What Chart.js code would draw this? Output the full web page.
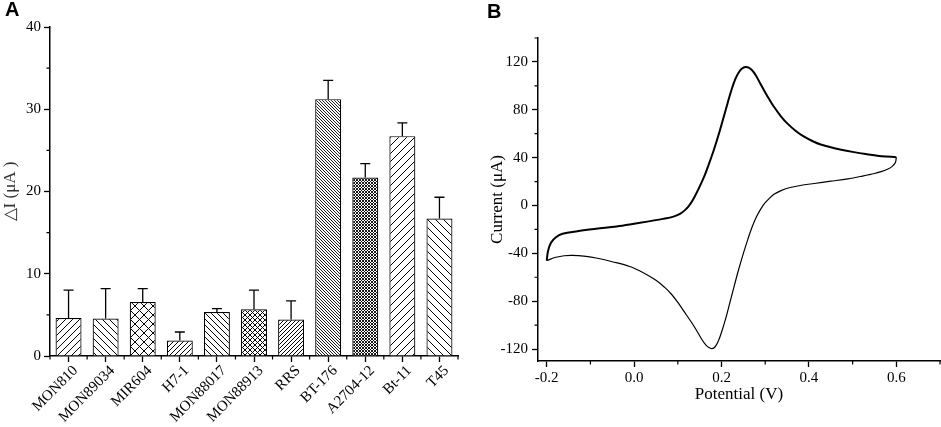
<!DOCTYPE html>
<html>
<head>
<meta charset="utf-8">
<script src="https://cdn.jsdelivr.net/npm/chart.js@4.4.1/dist/chart.umd.min.js"></script>
<style>
  html, body { margin: 0; padding: 0; background: #fff; }
  body { width: 941px; height: 427px; position: relative; overflow: hidden; }
  .panel { position: absolute; top: 0; height: 427px; }
  #boxA { left: 0; width: 480px; }
  #boxB { left: 480px; width: 461px; }
  .tag { position: absolute; font: bold 20px "Liberation Sans", Arial, sans-serif; color: #000; }
</style>
</head>
<body>
<div class="panel" id="boxA"><canvas id="barChart"></canvas></div>
<div class="panel" id="boxB"><canvas id="cvChart"></canvas></div>
<div class="tag" style="left:5px;top:-2px">A</div>
<div class="tag" style="left:487px;top:0px">B</div>
<script>
// Panel A: current change per maize event
const events = ["MON810", "MON89034", "MIR604", "H7-1", "MON88017", "MON88913",
                "RRS", "BT-176", "A2704-12", "Bt-11", "T45"];
const deltaI = [4.62, 4.55, 6.57, 1.87, 5.35, 5.68, 4.43, 31.23, 21.7, 26.73, 16.72];
const deltaIErr = [3.38, 3.65, 1.63, 1.05, 0.42, 2.32, 2.27, 2.27, 1.7, 1.62, 2.58];
const barTicksY = [0, 10, 20, 30, 40];

// Panel B: cyclic voltammogram, potential (V) vs current (uA)
const anodicV = [-0.2, -0.197, -0.19, -0.179, -0.164, -0.13, -0.087, -0.04, -0.01, 0.03, 0.066,
  0.09, 0.105, 0.115, 0.125, 0.135, 0.147, 0.159, 0.17, 0.182, 0.194, 0.205, 0.215, 0.224,
  0.232, 0.239, 0.247, 0.255, 0.262, 0.27, 0.279, 0.289, 0.3, 0.31, 0.32, 0.335, 0.351,
  0.37, 0.389, 0.41, 0.427, 0.45, 0.474, 0.5, 0.53, 0.566, 0.6];
const anodicI = [-46, -38, -31, -26.5, -23.7, -21.5, -19.5, -17.5, -15.9, -13.5, -11.2,
  -9.3, -7, -4.3, -0.5, 5, 13.5, 23, 33.5, 46, 60, 74, 87, 98,
  106, 111, 114.5, 115.7, 115.2, 113, 108.5, 101.8, 94.5, 88.3, 82.5, 75, 68.4,
  62.3, 57.5, 53.5, 51, 48.6, 46.6, 44.8, 43, 41.2, 40.4];
const cathodicV = [0.6, 0.598, 0.59, 0.581, 0.565, 0.55, 0.52, 0.489, 0.45, 0.412, 0.38,
  0.355, 0.335, 0.32, 0.31, 0.3, 0.29, 0.28, 0.27, 0.26, 0.25, 0.24, 0.23, 0.22,
  0.21, 0.2, 0.192, 0.185, 0.178, 0.171, 0.164, 0.155, 0.143, 0.13, 0.115, 0.1, 0.085,
  0.07, 0.05, 0.02, -0.01, -0.05, -0.087, -0.115, -0.141, -0.16, -0.179, -0.2];
const cathodicI = [40.4, 36, 32.5, 30.5, 28.3, 26.7, 24.4, 22.3, 20.3, 18.4, 16.7,
  14.8, 12.2, 9.3, 6.2, 2.3, -2.8, -9.5, -18, -28.5, -40, -52.5, -66, -80,
  -94, -106, -114, -118.3, -119.6, -118.8, -116.6, -112, -104.5, -97, -89, -81, -74,
  -68.5, -62.5, -56, -51, -47, -43.9, -42.3, -41.7, -42, -43.3, -46];

const serif = "'Liberation Serif', 'Times New Roman', serif";

function hatch(kind, s, lw) {
  const c = document.createElement("canvas");
  c.width = s; c.height = s;
  const g = c.getContext("2d");
  g.fillStyle = "#fff";
  g.fillRect(0, 0, s, s);
  g.strokeStyle = "#000";
  g.lineWidth = lw;
  g.beginPath();
  if (kind === "/" || kind === "x") {
    g.moveTo(-1, s + 1); g.lineTo(s + 1, -1);
    g.moveTo(-1, 1); g.lineTo(1, -1);
    g.moveTo(s - 1, s + 1); g.lineTo(s + 1, s - 1);
  }
  if (kind === "\\" || kind === "x") {
    g.moveTo(-1, -1); g.lineTo(s + 1, s + 1);
    g.moveTo(s - 1, -1); g.lineTo(s + 1, 1);
    g.moveTo(-1, s - 1); g.lineTo(1, s + 1);
  }
  g.stroke();
  return g.createPattern(c, "repeat");
}

// draws short ticks halfway between the library's own ticks
const minorTicks = {
  id: "minorTicks",
  afterDraw(chart, args, opts) {
    const ctx = chart.ctx;
    ctx.save();
    ctx.strokeStyle = "#000";
    ctx.lineWidth = 1.2;
    (opts.axes || []).forEach((id) => {
      const s = chart.scales[id];
      if (s.ticks.length < 2) return;
      const first = s.getPixelForTick(0);
      const step = s.getPixelForTick(1) - first;
      const horiz = s.isHorizontal();
      const lo = horiz ? s.left : s.top, hi = horiz ? s.right : s.bottom;
      ctx.beginPath();
      for (let i = -1; i < s.ticks.length; i++) {
        const p = first + (i + 0.5) * step;
        if (p < lo - 1 || p > hi + 1) continue;
        if (horiz) { ctx.moveTo(p, s.top); ctx.lineTo(p, s.top + 3.5); }
        else { ctx.moveTo(s.right, p); ctx.lineTo(s.right - 3.5, p); }
      }
      ctx.stroke();
    });
    ctx.restore();
  },
};

const errorBars = {
  id: "errorBars",
  afterDatasetsDraw(chart) {
    const meta = chart.getDatasetMeta(0);
    const y = chart.scales.y;
    const ctx = chart.ctx;
    ctx.save();
    ctx.strokeStyle = "#000";
    ctx.lineWidth = 1.3;
    ctx.beginPath();
    meta.data.forEach((bar, i) => {
      const top = y.getPixelForValue(deltaI[i] + deltaIErr[i]);
      ctx.moveTo(bar.x, bar.y);
      ctx.lineTo(bar.x, top);
      ctx.moveTo(bar.x - 5, top);
      ctx.lineTo(bar.x + 5, top);
    });
    ctx.stroke();
    ctx.restore();
  },
};

const axisBase = {
  border: { display: true, color: "#000", width: 1.5 },
  grid: { drawOnChartArea: false, drawTicks: true, tickLength: 6, tickColor: "#000", tickWidth: 1.3 },
};

const fills = [
  hatch("/", 7, 1), hatch("\\", 7, 1), hatch("x", 9, 1), hatch("/", 5, 1),
  hatch("\\", 6, 1), hatch("x", 5, 1), hatch("/", 4, 1), hatch("\\", 3, 0.9),
  hatch("x", 3, 0.9), hatch("/", 8, 1), hatch("\\", 8, 1),
];

new Chart(document.getElementById("barChart"), {
  type: "bar",
  data: {
    labels: events,
    datasets: [{
      data: deltaI,
      backgroundColor: fills,
      borderColor: "#000",
      borderWidth: 1.2,
      barPercentage: 0.7,
      categoryPercentage: 1,
    }],
  },
  options: {
    responsive: true,
    maintainAspectRatio: false,
    animation: false,
    layout: { padding: { top: 27, right: 22, left: 0, bottom: 0 } },
    plugins: { legend: { display: false }, tooltip: { enabled: false }, minorTicks: { axes: ["x", "y"] } },
    scales: {
      x: {
        ...axisBase,
        grid: { ...axisBase.grid, offset: false },
        ticks: {
          color: "#000", font: { family: serif, size: 15 },
          minRotation: 45, maxRotation: 45, autoSkip: false, padding: 0, labelOffset: 7,
        },
        afterFit(s) { s.height = 71; },
      },
      y: {
        ...axisBase,
        min: barTicksY[0],
        max: barTicksY[barTicksY.length - 1],
        ticks: { stepSize: 10, color: "#000", font: { family: serif, size: 15 }, padding: 3 },
        title: { display: true, text: "△I (μA )", color: "#333", font: { family: serif, size: 17 }, padding: { top: 0 } },
        afterFit(s) { s.width = 50; },
      },
    },
  },
  plugins: [errorBars, minorTicks],
});

const toPts = (xs, ys) => xs.map((x, i) => ({ x: x, y: ys[i] }));

new Chart(document.getElementById("cvChart"), {
  type: "scatter",
  data: {
    datasets: [
      { data: toPts(anodicV, anodicI), showLine: true, borderColor: "#000", borderWidth: 2, pointRadius: 0, tension: 0.35 },
      { data: toPts(cathodicV, cathodicI), showLine: true, borderColor: "#000", borderWidth: 1.2, pointRadius: 0, tension: 0.35 },
    ],
  },
  options: {
    responsive: true,
    maintainAspectRatio: false,
    animation: false,
    layout: { padding: { top: 38, right: 1, left: 0, bottom: 0 } },
    plugins: { legend: { display: false }, tooltip: { enabled: false }, minorTicks: { axes: ["x", "y"] } },
    scales: {
      x: {
        ...axisBase,
        type: "linear",
        min: -0.22,
        max: 0.7,
        ticks: {
          stepSize: 0.2, includeBounds: false, color: "#000", padding: 2,
          font: { family: serif, size: 15 },
          callback: (v) => v.toFixed(1),
        },
        title: { display: true, text: "Potential (V)", color: "#000", font: { family: serif, size: 17 }, padding: { bottom: 22 } },
        afterFit(s) { s.height = 66; },
      },
      y: {
        ...axisBase,
        min: -130,
        max: 140,
        ticks: {
          stepSize: 40, includeBounds: false, color: "#000", padding: 4,
          font: { family: serif, size: 15 },
          callback: (v) => String(Math.round(v)),
        },
        title: { display: true, text: "Current (μA)", color: "#000", font: { family: serif, size: 17 }, padding: { top: 7 } },
        afterFit(s) { s.width = 58; },
      },
    },
  },
  plugins: [minorTicks],
});
</script>
</body>
</html>
